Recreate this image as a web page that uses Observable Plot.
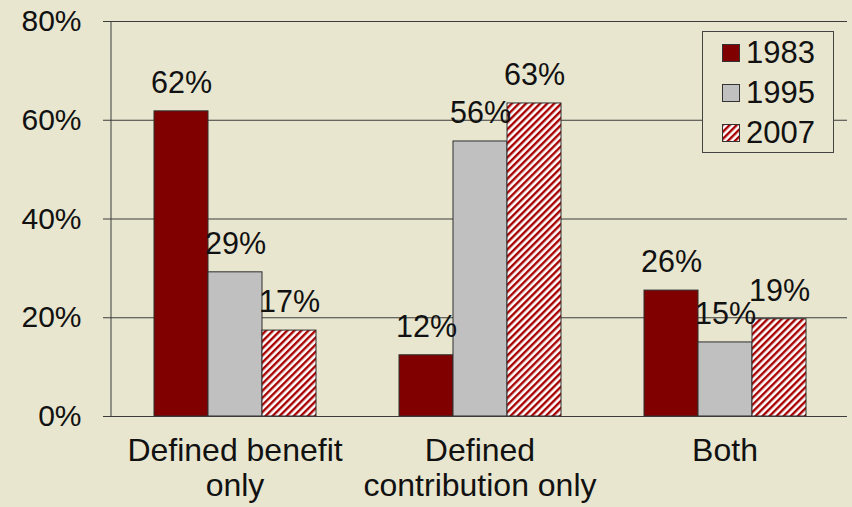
<!DOCTYPE html>
<html>
<head>
<meta charset="utf-8">
<script src="https://cdn.jsdelivr.net/npm/d3@7"></script>
<script src="https://cdn.jsdelivr.net/npm/@observablehq/plot@0.6"></script>
<style>
  html, body { margin: 0; padding: 0; background: #e8e6cf; }
  #wrap { position: relative; width: 852px; height: 507px; background: #e8e6cf; font-family: "Liberation Sans", Arial, sans-serif; color: #111; }
  #legend { position: absolute; left: 702px; top: 31px; width: 132px; height: 122px; box-sizing: border-box; border: 1px solid #444; background: #e8e6cf; }
  .row { position: absolute; left: 19px; height: 36px; display: flex; align-items: center; font-size: 31px; line-height: 36px; }
  .row svg { display: block; margin-right: 6px; }
</style>
</head>
<body>
<div id="wrap"></div>
<script>
const categories = ["Defined benefit only", "Defined contribution only", "Both"];
const categoryLabels = ["Defined benefit\nonly", "Defined\ncontribution only", "Both"];
const years = ["1983", "1995", "2007"];
const values1983 = [61.8, 12.4, 25.5];
const values1995 = [29.2, 55.7, 15.0];
const values2007 = [17.4, 63.4, 19.7];
const labels1983 = ["62%", "12%", "26%"];
const labels1995 = ["29%", "56%", "15%"];
const labels2007 = ["17%", "63%", "19%"];
const yTicks = [0, 20, 40, 60, 80];

const seriesValues = [values1983, values1995, values2007];
const seriesLabels = [labels1983, labels1995, labels2007];
const data = [];
categories.forEach((c, i) => {
  years.forEach((y, j) => {
    data.push({category: c, year: y, value: seriesValues[j][i], label: seriesLabels[j][i]});
  });
});
const catLabelMap = new Map(categories.map((c, i) => [c, categoryLabels[i]]));

const chart = Plot.plot({
  width: 852,
  height: 507,
  marginLeft: 111,
  marginRight: 5,
  marginTop: 21,
  marginBottom: 91,
  style: {background: "transparent", fontFamily: "'Liberation Sans', Arial, sans-serif", fontSize: "30px", color: "#111", overflow: "visible"},
  fx: {domain: categories, padding: 0, label: null, axis: null},
  x: {domain: years, paddingInner: 0, paddingOuter: 0.73, axis: null},
  y: {domain: [0, 80], label: null, axis: null},
  color: {type: "ordinal", domain: years, range: ["#800000", "#c0c0c0", "url(#stripes2007)"]},
  marks: [
    Plot.gridY(yTicks, {stroke: "#3c3c3c", strokeOpacity: 1}),
    Plot.barY(data, {fx: "category", x: "year", y: "value", fill: "year", stroke: "#2e2e2e", strokeWidth: 1, inset: 0}),
    Plot.ruleY([0], {stroke: "#3c3c3c"}),
    Plot.axisY(yTicks, {anchor: "left", tickFormat: d => d + "%", tickSize: 9, tickPadding: 22, fontSize: 30, stroke: "#3c3c3c", label: null}),
    Plot.axisFx({anchor: "bottom", tickFormat: d => catLabelMap.get(d), tickSize: 0, tickPadding: 19, fontSize: 32, lineHeight: 1.1, label: null}),
    Plot.text(data, {fx: "category", x: "year", y: "value", text: "label", dy: -28, fontSize: 30.5, fill: "#111"})
  ]
});

const svg = d3.select(chart);
svg.insert("defs", ":first-child").html(
  '<pattern id="stripes2007" patternUnits="userSpaceOnUse" width="5" height="5" patternTransform="rotate(45)">' +
  '<rect width="5" height="5" fill="#ffffff"/><rect width="2.4" height="5" fill="#a80000"/></pattern>'
);

// vertical axis line along the left edge of the plot area, placed through the y scale
const yScale = chart.scale("y");
const y0 = yScale.apply(0), y1 = yScale.apply(80);
svg.append("line")
  .attr("x1", 111).attr("x2", 111)
  .attr("y1", y0).attr("y2", y1)
  .attr("stroke", "#3c3c3c").attr("stroke-width", 1);

const wrap = document.getElementById("wrap");
wrap.appendChild(chart);

const legend = document.createElement("div");
legend.id = "legend";
const swatchFills = ["#800000", "#c0c0c0", "url(#stripes2007)"];
years.forEach((y, j) => {
  const row = document.createElement("div");
  row.className = "row";
  row.style.top = (3 + j * 40) + "px";
  row.innerHTML = `<svg width="18" height="18"><rect x="0.5" y="0.5" width="17" height="17" fill="${swatchFills[j]}" stroke="#333"/></svg><span>${y}</span>`;
  legend.appendChild(row);
});
wrap.appendChild(legend);
</script>
</body>
</html>
